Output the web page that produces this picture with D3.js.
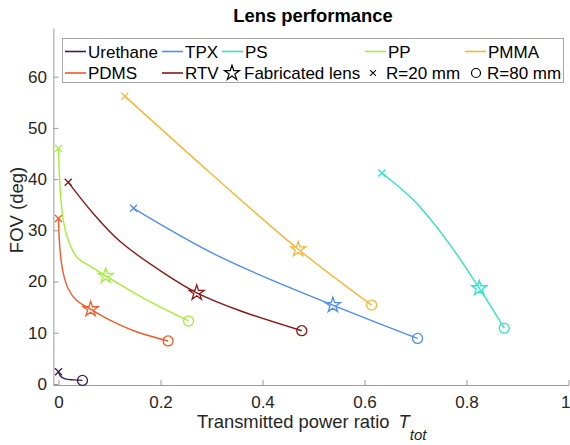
<!DOCTYPE html>
<html>
<head>
<meta charset="utf-8">
<script src="https://cdn.jsdelivr.net/npm/d3@7"></script>
<style>
  body { margin: 0; background: white; }
  svg { font-family: 'Liberation Sans', Arial, sans-serif; }
</style>
</head>
<body>
<main></main>
<script>
// values
const materials = ['Urethane', 'TPX', 'PS', 'PP', 'PMMA', 'PDMS', 'RTV'];
const colors = ['#3b1d52', '#4f8ef5', '#2fe3c2', '#a3f03a', '#f8b534', '#f25a26', '#8c1616'];

const tUrethane = [0, 0.004, 0.013, 0.03, 0.047];
const fovUrethane = [2.4, 1.5, 1.0, 0.8, 0.7];

const tTPX = [0.147, 0.317, 0.538, 0.704];
const fovTPX = [34.3, 24.8, 15.4, 8.9];

const tPS = [0.634, 0.696, 0.761, 0.825, 0.874];
const fovPS = [41.2, 35.9, 28.1, 18.7, 10.9];

const tPP = [0, 0.0016, 0.0043, 0.0094, 0.019, 0.0357, 0.062, 0.0925, 0.173, 0.255];
const fovPP = [46.0, 41.1, 36.5, 32.0, 28.1, 24.8, 23.0, 21.1, 16.4, 12.3];

const tPMMA = [0.13, 0.3, 0.47, 0.614];
const fovPMMA = [56.2, 41.0, 26.3, 15.4];

const tPDMS = [0, 0.0016, 0.0043, 0.0094, 0.019, 0.0357, 0.063, 0.1, 0.15, 0.215];
const fovPDMS = [32.3, 28.1, 24.8, 21.6, 18.6, 16.3, 14.6, 12.5, 10.3, 8.4];

const tRTV = [0.019, 0.068, 0.121, 0.212, 0.271, 0.356, 0.477];
const fovRTV = [39.4, 33.3, 27.8, 21.3, 17.8, 14.3, 10.4];

// index of the fabricated lens in each series (-1 = none)
const starIndex = [-1, 2, 3, 7, 2, 6, 4];

const xTicks = [0, 0.2, 0.4, 0.6, 0.8, 1];
const yTicks = [0, 10, 20, 30, 40, 50, 60];

const tValues = [tUrethane, tTPX, tPS, tPP, tPMMA, tPDMS, tRTV];
const fovValues = [fovUrethane, fovTPX, fovPS, fovPP, fovPMMA, fovPDMS, fovRTV];

const width = 570;
const height = 445;
const plotLeft = 53.4, plotRight = 568.5, plotTop = 28, plotBottom = 385;
const axisGray = '#9a9a9a';
const textDark = '#262626';

const series = materials.map((name, i) => ({
  name,
  color: colors[i],
  star: starIndex[i],
  points: tValues[i].map((t, j) => [t, fovValues[i][j]])
}));

const svg = d3.select('main')
  .append('svg')
  .attr('width', width)
  .attr('height', height);

const xScale = d3.scaleLinear()
  .domain([-0.01, 1])
  .range([plotLeft, plotRight]);

const yScale = d3.scaleLinear()
  .domain([-0.2, 69.5])
  .range([plotBottom, plotTop]);

// title
svg.append('text')
  .text('Lens performance')
  .attr('x', (plotLeft + plotRight) / 2 + 2)
  .attr('y', 22)
  .attr('text-anchor', 'middle')
  .style('font-weight', 'bold')
  .style('font-size', '18.4px')
  .style('fill', '#000');

// x-axis
const xAxis = svg.append('g')
  .attr('transform', `translate(0, ${plotBottom})`)
  .call(d3.axisBottom(xScale).tickValues(xTicks).tickFormat(d => d)
    .tickSizeInner(-5).tickSizeOuter(0).tickPadding(11))

// y-axis
const yAxis = svg.append('g')
  .attr('transform', `translate(${plotLeft}, 0)`)
  .call(d3.axisLeft(yScale).tickValues(yTicks)
    .tickSizeInner(-5).tickSizeOuter(0).tickPadding(6.5))

;[xAxis, yAxis].forEach(g => {
  g.select('.domain').attr('stroke', axisGray)
  g.selectAll('.tick line').attr('stroke', axisGray)
  g.selectAll('.tick text')
    .style('font-size', '17px')
    .style('font-family', 'Liberation Sans, Arial, sans-serif')
    .attr('fill', textDark)
})

// keep the last x label inside the window
xAxis.selectAll('.tick text')
  .filter(d => d === 1)
  .attr('text-anchor', 'end')
  .attr('x', 1.5)

// axis labels
const xLabel = svg.append('text')
  .attr('x', 197)
  .attr('y', 428)
  .style('font-size', '18.4px')
  .style('fill', textDark)
xLabel.append('tspan').text('Transmitted power ratio')
xLabel.append('tspan').text('T')
  .attr('dx', 9)
  .style('font-style', 'italic')
xLabel.append('tspan').text('tot')
  .attr('dy', 12)
  .style('font-style', 'italic')
  .style('font-size', '15px')

svg.append('text')
  .text('FOV (deg)')
  .attr('transform', 'translate(23, 210) rotate(-90)')
  .attr('text-anchor', 'middle')
  .style('font-size', '18.5px')
  .style('fill', textDark)

// curves
const line = d3.line()
  .x(d => xScale(d[0]))
  .y(d => yScale(d[1]))
  .curve(d3.curveCatmullRom.alpha(0.5))

const crossPath = 'M-3.5,-3.5L3.5,3.5M-3.5,3.5L3.5,-3.5';
const starPath = d3.symbol().type(d3.symbolStar).size(70)();

const groups = svg.selectAll('.series')
  .data(series)
  .enter()
  .append('g')
  .attr('class', 'series')

groups.append('path')
  .attr('d', d => line(d.points))
  .attr('fill', 'none')
  .attr('stroke', d => d.color)
  .attr('stroke-width', 1.4)

groups.append('path')
  .attr('d', crossPath)
  .attr('transform', d => `translate(${xScale(d.points[0][0])}, ${yScale(d.points[0][1])})`)
  .attr('fill', 'none')
  .attr('stroke', d => d.color)
  .attr('stroke-width', 1.3)

groups.append('circle')
  .attr('cx', d => xScale(d.points[d.points.length - 1][0]))
  .attr('cy', d => yScale(d.points[d.points.length - 1][1]))
  .attr('r', 5)
  .attr('fill', 'none')
  .attr('stroke', d => d.color)
  .attr('stroke-width', 1.3)

groups.filter(d => d.star >= 0)
  .append('path')
  .attr('d', starPath)
  .attr('transform', d => `translate(${xScale(d.points[d.star][0])}, ${yScale(d.points[d.star][1])})`)
  .attr('fill', 'none')
  .attr('stroke', d => d.color)
  .attr('stroke-width', 1.3)

// legend
const legend = svg.append('g')

legend.append('rect')
  .attr('x', 62.5)
  .attr('y', 38.5)
  .attr('width', 501)
  .attr('height', 44)
  .attr('fill', 'white')
  .attr('stroke', '#a6a6a6')
  .attr('stroke-width', 1)

const legendX = [65, 162, 222, 365, 465, 65, 162];
const legendRow = [0, 0, 0, 0, 0, 1, 1];
const rowY = [51.5, 73];

series.forEach((s, i) => {
  const x = legendX[i];
  const y = rowY[legendRow[i]];
  legend.append('line')
    .attr('x1', x).attr('x2', x + 21)
    .attr('y1', y).attr('y2', y)
    .attr('stroke', s.color)
    .attr('stroke-width', 1.6)
  legend.append('text')
    .text(s.name)
    .attr('x', x + 23)
    .attr('y', y + 6)
    .style('font-size', '17px')
    .style('fill', '#000')
})

const markerItems = [
  { label: 'Fabricated lens', x: 232, text: 244, shape: 'star' },
  { label: 'R=20 mm', x: 373, text: 386, shape: 'cross' },
  { label: 'R=80 mm', x: 476, text: 487, shape: 'circle' }
];

markerItems.forEach(m => {
  const y = rowY[1];
  if (m.shape === 'circle') {
    legend.append('circle')
      .attr('cx', m.x).attr('cy', y).attr('r', 4.5)
      .attr('fill', 'none').attr('stroke', '#000').attr('stroke-width', 1.2)
  } else {
    legend.append('path')
      .attr('d', m.shape === 'star' ? starPath : crossPath)
      .attr('transform', `translate(${m.x}, ${y})${m.shape === 'cross' ? ' scale(0.85)' : ''}`)
      .attr('fill', 'none').attr('stroke', '#000').attr('stroke-width', 1.2)
  }
  legend.append('text')
    .text(m.label)
    .attr('x', m.text)
    .attr('y', y + 6)
    .style('font-size', '17px')
    .style('fill', '#000')
})
</script>
</body>
</html>
